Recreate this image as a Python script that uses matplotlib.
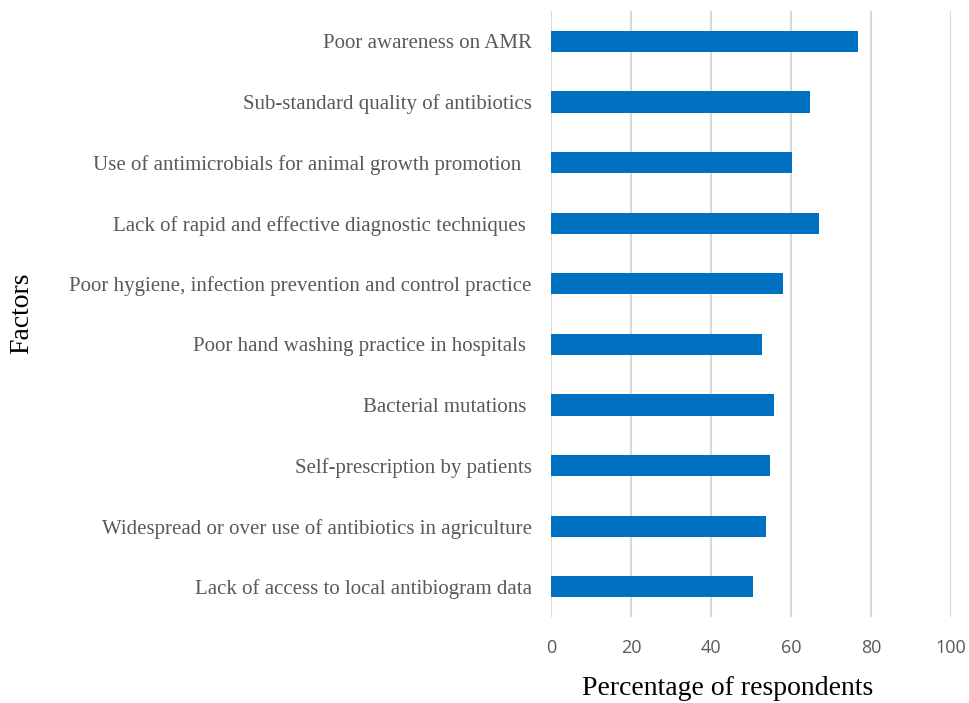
import matplotlib
matplotlib.use("Agg")
import matplotlib.pyplot as plt

factors = [
    "Poor awareness on AMR",
    "Sub-standard quality of antibiotics",
    "Use of antimicrobials for animal growth promotion  ",
    "Lack of rapid and effective diagnostic techniques ",
    "Poor hygiene, infection prevention and control practice",
    "Poor hand washing practice in hospitals ",
    "Bacterial mutations ",
    "Self-prescription by patients",
    "Widespread or over use of antibiotics in agriculture",
    "Lack of access to local antibiogram data",
]
percentages = [76.8, 64.8, 60.3, 66.9, 58.1, 52.7, 55.8, 54.8, 53.8, 50.4]
x_ticks = [0, 20, 40, 60, 80, 100]

fig = plt.figure(figsize=(9.7, 7.03), dpi=100)
ax = fig.add_axes([0.568, 0.1223, 0.4124, 0.862])

positions = list(range(len(factors)))
ax.barh(positions, percentages, height=0.35, color="#0070C0", zorder=3)

ax.set_ylim(len(factors) - 0.5, -0.5)
ax.set_xlim(0, 100)
ax.set_xticks(x_ticks)
ax.set_xticklabels([str(t) for t in x_ticks], fontfamily="Open Sans",
                   fontsize=13, color="#595959")
ax.set_yticks(positions)
ax.set_yticklabels(factors, fontfamily="Liberation Serif", fontsize=15,
                   color="#595959")

ax.grid(axis="x", color="#d9d9d9", linewidth=1.5, zorder=0)
for s in ax.spines.values():
    s.set_visible(False)
ax.tick_params(axis="both", length=0)
ax.tick_params(axis="y", pad=14)
ax.tick_params(axis="x", pad=16)

fig.text(0.75, 0.012, "Percentage of respondents", fontfamily="Liberation Serif",
         fontsize=20, color="black", ha="center", va="baseline")
fig.text(0.022, 0.555, "Factors", fontfamily="Liberation Serif", fontsize=20,
         color="black", rotation=90, ha="center", va="center")

fig.savefig("out.png", dpi=100)
